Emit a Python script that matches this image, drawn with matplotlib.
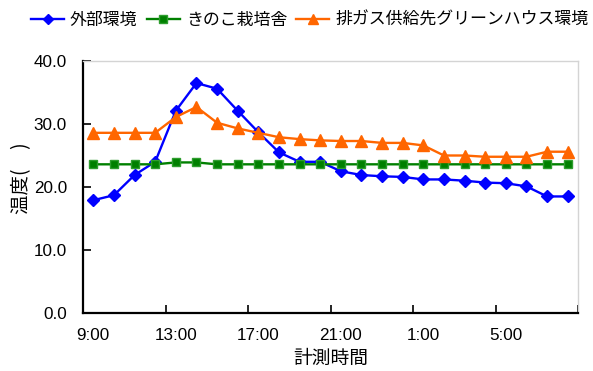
import matplotlib
matplotlib.use("Agg")
import matplotlib.pyplot as plt
import numpy as np

# Hourly readings, 9:00 through 8:00 the next morning
hours = [f"{(9 + i) % 24}:00" for i in range(24)]
outside = [17.9, 18.7, 21.9, 24.0, 32.1, 36.5, 35.6, 32.1, 28.7, 25.5, 24.0, 24.0,
           22.5, 21.9, 21.7, 21.6, 21.2, 21.2, 21.0, 20.7, 20.6, 20.1, 18.5, 18.5]
mushroom_house = [23.6, 23.6, 23.6, 23.6, 23.9, 23.9, 23.6, 23.6, 23.6, 23.6, 23.6, 23.6,
                  23.6, 23.6, 23.6, 23.6, 23.6, 23.6, 23.6, 23.6, 23.6, 23.6, 23.6, 23.6]
greenhouse = [28.6, 28.6, 28.6, 28.6, 31.1, 32.7, 30.2, 29.3, 28.6, 27.9, 27.6, 27.4,
              27.3, 27.3, 27.0, 27.0, 26.6, 25.0, 25.0, 24.8, 24.8, 24.8, 25.6, 25.6]
series_names = ["外部環境", "きのこ栽培舎", "排ガス供給先グリーンハウス環境"]
label_every = 4
y_ticks = [0, 10, 20, 30, 40]

plt.rcParams["font.family"] = ["Liberation Sans", "Noto Sans CJK JP"]
jp = ["Noto Sans CJK JP", "Liberation Sans"]

fig = plt.figure(figsize=(5.93, 3.71), dpi=100)
ax = fig.add_axes([83 / 593, 1 - 313 / 371, 495 / 593, 252 / 371])

x = np.arange(len(hours))
l1, = ax.plot(x, outside, color="#0000FF", lw=1.7, marker="D", ms=6,
              mec="#0000FF", mfc="#0000FF")
l2, = ax.plot(x, mushroom_house, color="#008000", lw=1.7, marker="s", ms=6,
              mec="#2e9e2e", mfc="#008000")
l3, = ax.plot(x, greenhouse, color="#FF6600", lw=1.7, marker="^", ms=8,
              mec="#FF6600", mfc="#FF6600")

ax.set_xlim(-0.5, len(hours) - 0.5)
ax.set_ylim(0, 40)

# Tick marks sit on category boundaries, labels on every fourth hour
ax.set_xticks(np.arange(-0.5, len(hours), label_every))
ax.set_xticklabels([])
ax.set_xticks(x[::label_every], minor=True)
ax.set_xticklabels(hours[::label_every], minor=True)
ax.tick_params(axis="x", which="major", direction="in", length=6, width=1.2, color="black")
ax.tick_params(axis="x", which="minor", length=0, pad=11, labelsize=12.3)

ax.set_yticks(y_ticks)
ax.set_yticklabels([f"{v:.1f}" for v in y_ticks])
ax.tick_params(axis="y", direction="in", length=6, width=1.2, pad=11.5, labelsize=12.3)

for side in ("left", "bottom"):
    ax.spines[side].set_linewidth(1.6)
    ax.spines[side].set_color("black")
for side in ("top", "right"):
    ax.spines[side].set_linewidth(1.0)
    ax.spines[side].set_color("#d4d4d4")

ax.set_ylabel("温度(\u3000)", family=jp, fontsize=14)
ax.yaxis.label.set_va("center")
ax.yaxis.set_label_coords((22 - 83) / 495, (313 - 178) / 252)
ax.set_xlabel("計測時間", family=jp, fontsize=13.5)
ax.xaxis.label.set_va("center")
ax.xaxis.set_label_coords(0.5, (313 - 358) / 252)

fig.legend([l1, l2, l3], series_names, loc="center left",
           bbox_to_anchor=(31 / 593, 1 - 20 / 371), ncol=3, frameon=False,
           prop={"family": jp, "size": 12.2}, handlelength=1.95, handletextpad=0.35,
           columnspacing=0.55, borderpad=0, borderaxespad=0, markerscale=0.85)

fig.savefig("out.png", dpi=100)
